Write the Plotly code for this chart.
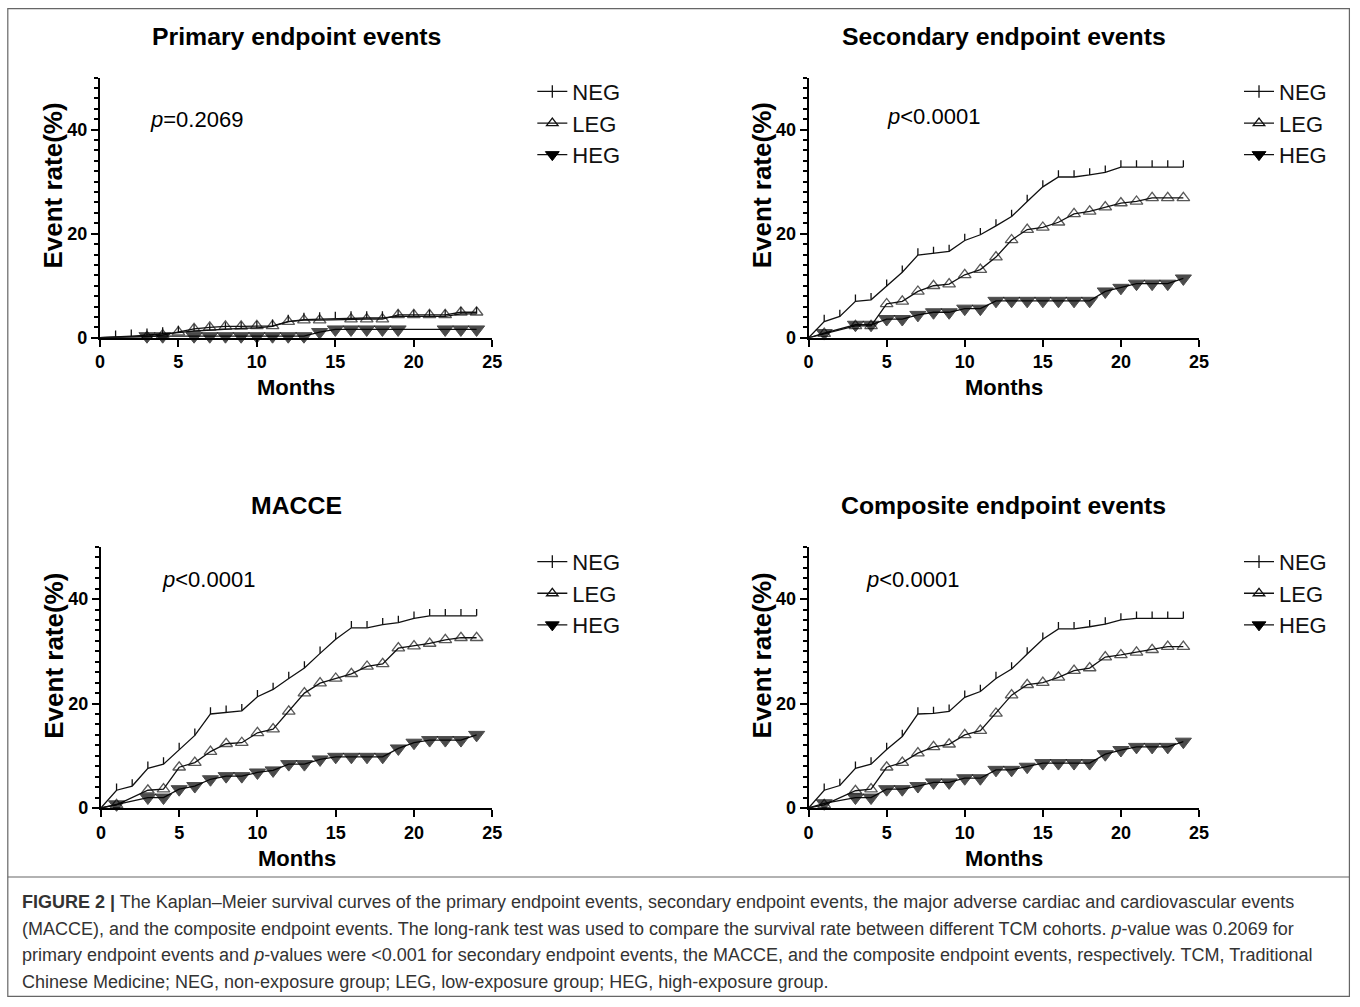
import plotly.graph_objects as go

W, H = 1360, 1007

months = list(range(25))

# Primary endpoint events
neg1 = [0, 0.1, 0.3, 0.5, 0.7, 1.0, 1.3, 1.5, 1.7, 1.8, 1.9, 2.2, 3.1, 3.5, 3.6, 3.7, 3.8, 3.8, 3.8, 4.1, 4.1, 4.1, 4.1, 4.6, 4.6]
leg1 = [0, None, None, 0.2, 0.5, 1.1, 1.7, 2.0, 2.2, 2.2, 2.3, 2.3, 3.1, 3.4, 3.4, None, 3.6, 3.6, 3.6, 4.4, 4.4, 4.4, 4.4, 4.9, 4.9]
heg1 = [0, None, None, 0.3, 0.3, None, 0.3, 0.3, 0.3, 0.3, 0.3, 0.3, 0.3, 0.3, 1.1, 1.6, 1.6, 1.6, 1.6, 1.6, None, None, 1.6, 1.6, 1.6]

# Secondary endpoint events
neg2 = [0, 3.1, 4.1, 7.0, 7.3, 9.9, 12.6, 15.9, 16.2, 16.6, 18.7, 19.8, 21.5, 23.3, 26.2, 29.0, 30.9, 30.9, 31.3, 31.8, 32.8, 32.8, 32.8, 32.8, 32.8]
leg2 = [0, 0.8, None, 2.3, 2.3, 6.5, 7.0, 8.9, 10.0, 10.3, 12.1, 13.1, 15.5, 18.8, 20.8, 21.2, 22.2, 23.8, 24.3, 25.1, 25.9, 26.2, 26.9, 26.9, 26.9]
heg2 = [0, 0.9, None, 2.5, 2.5, 3.6, 3.6, 4.4, 4.9, 4.9, 5.6, 5.6, 7.1, 7.1, 7.1, 7.1, 7.1, 7.1, 7.1, 8.9, 9.6, 10.4, 10.4, 10.4, 11.4]

# MACCE
neg3 = [0, 3.4, 4.2, 7.6, 8.4, 11.2, 13.9, 18.0, 18.3, 18.6, 21.3, 22.7, 24.8, 26.8, 29.6, 32.3, 34.5, 34.5, 35.1, 35.5, 36.3, 36.8, 36.8, 36.8, 36.8]
leg3 = [0, 0.6, None, 3.4, 3.6, 7.8, 8.7, 10.8, 12.3, 12.5, 14.4, 15.1, 18.5, 22.0, 23.9, 24.8, 25.7, 27.1, 27.6, 30.6, 31.0, 31.5, 32.2, 32.6, 32.6]
heg3 = [0, 0.7, None, 2.0, 2.0, 3.6, 4.2, 5.5, 6.1, 6.1, 6.8, 7.2, 8.4, 8.4, 9.3, 9.8, 9.8, 9.8, 9.8, 11.4, 12.5, 13.0, 13.0, 13.0, 14.0]

# Composite endpoint events
neg4 = [0, 3.4, 4.3, 7.6, 8.4, 11.2, 13.7, 18.0, 18.1, 18.5, 21.2, 22.3, 24.8, 26.6, 29.5, 32.3, 34.3, 34.3, 34.7, 35.2, 36.0, 36.3, 36.3, 36.3, 36.3]
leg4 = [0, 0.6, None, 3.3, 3.6, 7.8, 8.7, 10.5, 11.7, 12.2, 14.0, 14.8, 18.1, 21.6, 23.6, 24.0, 25.0, 26.3, 26.8, 28.9, 29.3, 29.8, 30.3, 30.9, 30.9]
heg4 = [0, 0.9, None, 2.0, 2.0, 3.6, 3.6, 4.2, 4.9, 4.9, 5.7, 5.7, 7.3, 7.3, 7.9, 8.6, 8.6, 8.6, 8.6, 10.3, 11.1, 11.7, 11.7, 11.7, 12.7]

titles = ["Primary endpoint events", "Secondary endpoint events", "MACCE", "Composite endpoint events"]
pvals = ["<i>p</i>=0.2069", "<i>p</i>&lt;0.0001", "<i>p</i>&lt;0.0001", "<i>p</i>&lt;0.0001"]
group_names = ["NEG", "LEG", "HEG"]
x_ticks = [0, 5, 10, 15, 20, 25]
y_ticks = [0, 20, 40]
x_title = "Months"
y_title = "Event rate(%)"

caption = [
    "<b>FIGURE 2 |</b> The Kaplan–Meier survival curves of the primary endpoint events, secondary endpoint events, the major adverse cardiac and cardiovascular events",
    "(MACCE), and the composite endpoint events. The long-rank test was used to compare the survival rate between different TCM cohorts. <i>p</i>-value was 0.2069 for",
    "primary endpoint events and <i>p</i>-values were &lt;0.001 for secondary endpoint events, the MACCE, and the composite endpoint events, respectively. TCM, Traditional",
    "Chinese Medicine; NEG, non-exposure group; LEG, low-exposure group; HEG, high-exposure group.",
]

panels = [(neg1, leg1, heg1), (neg2, leg2, heg2), (neg3, leg3, heg3), (neg4, leg4, heg4)]

FONT = "Arial, Liberation Sans, Helvetica, sans-serif"
INK = "#111111"

# the captured picture is slightly scaled relative to the page; compensate
SX, BX = 0.988, 5.2
SY, BY = 0.9896, 0.4


def px(t):
    p = min(max((t - BX) / SX, 0.0), W - 0.6)
    return p / W


def py(t):
    p = min(max((t - BY) / SY, 0.0), H - 0.6)
    return 1 - p / H


# panel boxes in target pixels: (x at 0, x at 25, y at 0, y at 50)
boxes = [
    (100, 492, 338, 78),
    (808, 1198, 338, 78),
    (101, 492, 808, 547),
    (808, 1198, 808, 547),
]
title_y = [37, 37, 506, 506]
p_pos = [(150, 120), (886, 117), (162, 580), (865, 580)]
legend_text = [(572, 92), (1278, 92), (572, 562), (1278, 562)]

fig = go.Figure()
annotations = []
shapes = []

for i, (neg, leg, heg) in enumerate(panels):
    k = "" if i == 0 else str(i + 1)
    xa, ya = "x" + k, "y" + k
    lg = "legend" + k
    x0, x1, yb, yt = boxes[i]
    fig.update_layout(**{
        "xaxis" + k: dict(
            domain=[px(x0), px(x1)], range=[0, 25], anchor=ya,
            tickvals=x_ticks, showline=True, linewidth=2, linecolor="black",
            ticks="outside", ticklen=7, tickwidth=2, tickcolor="black",
            showgrid=False, zeroline=False,
            tickfont=dict(family=FONT, size=18, color="black", weight="bold"),
        ),
        "yaxis" + k: dict(
            domain=[py(yb), py(yt)], range=[0, 50], anchor=xa,
            tickvals=y_ticks, showline=True, linewidth=2, linecolor="black",
            ticks="outside", ticklen=7, tickwidth=2, tickcolor="black",
            minor=dict(dtick=2, ticks="outside", ticklen=4, tickwidth=1.5, tickcolor="black"),
            showgrid=False, zeroline=False,
            tickfont=dict(family=FONT, size=18, color="black", weight="bold"),
        ),
    })
    ltx, lty = legend_text[i]
    fig.update_layout(**{lg: dict(
        x=px(ltx - 40), y=py(lty - 21), xanchor="left", yanchor="top",
        bgcolor="rgba(0,0,0,0)", borderwidth=0, itemwidth=30,
        font=dict(family=FONT, size=22, color=INK), tracegroupgap=0,
    )})

    # NEG: line with upward censor ticks
    tick_up = [0] + [1.3] * (len(months) - 1)
    fig.add_trace(go.Scatter(
        x=months, y=neg, xaxis=xa, yaxis=ya, mode="lines",
        line=dict(color=INK, width=1.3), showlegend=False, connectgaps=True,
        error_y=dict(type="data", array=tick_up, arrayminus=[0] * len(months),
                     symmetric=False, width=0, thickness=1.3, color=INK),
        cliponaxis=False, hoverinfo="skip",
    ))
    sizes_l = [0] + [11] * (len(months) - 1)
    fig.add_trace(go.Scatter(
        x=months, y=leg, xaxis=xa, yaxis=ya, mode="lines+markers",
        line=dict(color=INK, width=1.3), connectgaps=True, showlegend=False,
        marker=dict(symbol="triangle-up-open", size=sizes_l, color=INK, line=dict(width=1.3, color=INK)),
        cliponaxis=False, hoverinfo="skip",
    ))
    sizes_h = [0] + [14] * (len(months) - 1)
    fig.add_trace(go.Scatter(
        x=months, y=heg, xaxis=xa, yaxis=ya, mode="lines+markers",
        line=dict(color=INK, width=1.3), connectgaps=True, showlegend=False,
        marker=dict(symbol="triangle-down", size=sizes_h, color="black", line=dict(width=1, color="black")),
        cliponaxis=False, hoverinfo="skip",
    ))
    # legend entries
    fig.add_trace(go.Scatter(
        x=[None], y=[None], xaxis=xa, yaxis=ya, mode="lines+markers", name=group_names[0],
        line=dict(color=INK, width=1.3),
        marker=dict(symbol="line-ns-open", size=9, color=INK, line=dict(width=1.3, color=INK)),
        legend=lg,
    ))
    fig.add_trace(go.Scatter(
        x=[None], y=[None], xaxis=xa, yaxis=ya, mode="lines+markers", name=group_names[1],
        line=dict(color=INK, width=1.3),
        marker=dict(symbol="triangle-up-open", size=10, color=INK, line=dict(width=1.3, color=INK)),
        legend=lg,
    ))
    fig.add_trace(go.Scatter(
        x=[None], y=[None], xaxis=xa, yaxis=ya, mode="lines+markers", name=group_names[2],
        line=dict(color=INK, width=1.3),
        marker=dict(symbol="triangle-down", size=12, color="black", line=dict(width=1, color="black")),
        legend=lg,
    ))

    cx = (x0 + x1) / 2
    annotations.append(dict(
        text="<b>" + titles[i] + "</b>", x=px(cx), y=py(title_y[i]), xref="paper", yref="paper",
        xanchor="center", yanchor="middle", showarrow=False,
        font=dict(family=FONT, size=24.8, color="black"),
    ))
    annotations.append(dict(
        text="<b>" + x_title + "</b>", x=px(cx), y=py(yb + 50), xref="paper", yref="paper",
        xanchor="center", yanchor="middle", showarrow=False,
        font=dict(family=FONT, size=22, color="black"),
    ))
    annotations.append(dict(
        text="<b>" + y_title + "</b>", x=px(x0 - 47), y=py(yb - 152), xref="paper", yref="paper",
        xanchor="center", yanchor="middle", showarrow=False, textangle=-90,
        font=dict(family=FONT, size=26, color="black"),
    ))
    ptx, pty = p_pos[i]
    annotations.append(dict(
        text=pvals[i], x=px(ptx - 1.6), y=py(pty), xref="paper", yref="paper",
        xanchor="left", yanchor="middle", showarrow=False,
        font=dict(family=FONT, size=22, color="black"),
    ))

cap_y = [902, 929, 955, 982]
for line, cy in zip(caption, cap_y):
    annotations.append(dict(
        text=line, x=px(20), y=py(cy), xref="paper", yref="paper",
        xanchor="left", yanchor="middle", showarrow=False,
        font=dict(family=FONT, size=18, color="#333333"),
    ))

shapes.append(dict(type="rect", xref="paper", yref="paper",
                   x0=px(8), x1=px(1356), y0=py(1000), y1=py(9),
                   line=dict(color="#666666", width=1.2)))
shapes.append(dict(type="line", xref="paper", yref="paper",
                   x0=px(8), x1=px(1356), y0=py(877), y1=py(877),
                   line=dict(color="#666666", width=1.2)))

fig.update_layout(
    width=W, height=H, margin=dict(l=0, r=0, t=0, b=0),
    paper_bgcolor="white", plot_bgcolor="white",
    annotations=annotations, shapes=shapes,
    font=dict(family=FONT, color="black"),
    hovermode=False,
)

fig.write_html("out.html", config={"displayModeBar": False},
               post_script="document.body.style.margin='0';document.body.style.overflow='hidden';")
